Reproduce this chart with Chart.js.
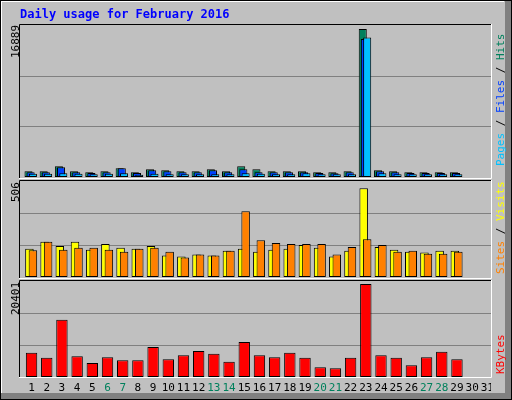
<!DOCTYPE html>
<html><head><meta charset="utf-8">
<script src="https://cdn.jsdelivr.net/npm/chart.js@4"></script>
<style>
body{margin:0;width:512px;height:400px;overflow:hidden;background:#c0c0c0;font-family:"DejaVu Sans Mono",monospace}
#frame{position:absolute;left:0;top:0;width:512px;height:400px}
canvas.c{position:absolute}
.t{position:absolute;font-family:"DejaVu Sans Mono",monospace;white-space:nowrap}
.rot{transform-origin:0 0;transform:rotate(-90deg)}
</style></head><body>
<canvas id="frame" width="512" height="400"></canvas>
<canvas id="c1" class="c" style="left:20px;top:25px;width:471px;height:152px"></canvas>
<canvas id="c2" class="c" style="left:20px;top:181px;width:471px;height:96px"></canvas>
<canvas id="c3" class="c" style="left:20px;top:281px;width:471px;height:118px"></canvas>
<div class="t" style="left:20px;top:7px;color:#0000ff;font-weight:bold;font-size:12px">Daily usage for February 2016</div>
<div class="t rot" style="left:9px;top:58px;font-size:11px;color:#000">16889</div>
<div class="t rot" style="left:9px;top:202px;font-size:11px;color:#000">506</div>
<div class="t rot" style="left:9px;top:315px;font-size:11px;color:#000">20401</div>
<div class="t rot" style="left:494px;top:166px;font-size:11px"><span style="color:#00c0ff">Pages</span><span style="color:#000"> / </span><span style="color:#0040ff">Files</span><span style="color:#000"> / </span><span style="color:#00805c">Hits</span></div>
<div class="t rot" style="left:494px;top:274px;font-size:11px"><span style="color:#ff8000">Sites</span><span style="color:#000"> / </span><span style="color:#ffff00">Visits</span></div>
<div class="t rot" style="left:494px;top:374px;font-size:11px;color:#ff0000">KBytes</div>
<script>
const days=[1,2,3,4,5,6,7,8,9,10,11,12,13,14,15,16,17,18,19,20,21,22,23,24,25,26,27,28,29,30,31];
const weekend=[6,7,13,14,20,21,27,28];
const hits=[650,650,1226,650,536,650,996,536,881,766,650,650,881,650,1226,881,650,650,650,536,536,650,16889,766,650,536,536,536,536,0,0];
const files=[536,536,1111,536,460,536,996,460,766,650,536,536,766,536,881,536,536,536,536,460,421,536,15740,650,536,460,460,460,460,0,0];
const pages=[383,383,421,383,306,383,421,268,383,306,306,306,306,306,421,383,306,306,421,306,306,306,15930,421,306,306,306,306,306,0,0];
const visits=[155,193,170,193,149,181,160,155,170,118,112,123,118,144,155,139,149,155,176,160,112,144,486,165,149,139,134,144,144,0,0];
const sites=[146,193,149,160,160,149,139,155,160,139,107,123,118,144,360,202,186,181,181,181,123,165,207,176,139,144,128,128,139,0,0];
const kbytes=[5320,4210,12560,4580,3100,4360,3700,3700,6580,3920,4800,5690,5100,3330,7690,4800,4360,5320,4210,2140,1920,4210,20401,4800,4210,2590,4360,5540,3920,0,0];
const yMax=[17350,526,21070];

const f=document.getElementById('frame').getContext('2d');
f.fillStyle='#c0c0c0';f.fillRect(0,0,512,400);
f.fillStyle='#808080';f.fillRect(505,0,7,400);f.fillRect(0,393,512,7);
f.fillStyle='#ffffff';f.fillRect(1,1,503,1);f.fillRect(1,1,1,392);
f.strokeStyle='#000';f.lineWidth=1;f.strokeRect(0.5,0.5,511,399);
function box(y0,y1){f.strokeStyle='#000';f.beginPath();f.moveTo(19.5,y1);f.lineTo(19.5,y0+0.5);f.lineTo(491.5,y0+0.5);f.stroke();
 f.strokeStyle='#fff';f.beginPath();f.moveTo(491.5,y0);f.lineTo(491.5,y1+0.5);f.lineTo(19,y1+0.5);f.stroke();}
box(24,178);box(180,278);box(280,377);

const pts=a=>a.map((v,i)=>({x:days[i],y:v}));
const gridPlugin={id:'g',beforeDatasetsDraw(ch){const y=ch.scales.y,ctx=ch.ctx,a=ch.chartArea;ctx.save();ctx.strokeStyle='#808080';ctx.lineWidth=1;
 [1,2].forEach(k=>{const p=Math.round(y.getPixelForValue(y.max*k/3))+0.5;ctx.beginPath();ctx.moveTo(a.left,p);ctx.lineTo(a.right,p);ctx.stroke();});ctx.restore();}};
const labelPlugin={id:'l',afterDraw(ch){const x=ch.scales.x0,ctx=ch.ctx;ctx.save();ctx.font='11px "DejaVu Sans Mono"';ctx.textAlign='center';ctx.textBaseline='middle';
 days.forEach(d=>{ctx.fillStyle=weekend.includes(d)?'#00805c':'#000';ctx.fillText(String(d),x.getPixelForValue(d),107);});ctx.restore();}};
function xs(mins){const s={};mins.forEach((m,i)=>s['x'+i]={type:'linear',min:m,max:m+31,offset:false,display:false});return s;}
function ds(data,axis,color,bp,order){return {data:pts(data),xAxisID:axis,backgroundColor:color,borderColor:'#000',borderWidth:1,borderSkipped:false,barPercentage:bp,categoryPercentage:1,grouped:false,order};}
function make(id,datasets,mins,ymax,extra,padB){
 const scales=xs(mins);scales.y={min:0,max:ymax,display:false};
 new Chart(document.getElementById(id),{type:'bar',data:{datasets},options:{responsive:false,animation:false,devicePixelRatio:1,
  layout:{padding:{left:0,right:0,top:0,bottom:padB||0}},plugins:{legend:{display:false},tooltip:{enabled:false}},scales},plugins:[gridPlugin].concat(extra||[])});
}
[['c1',471,152],['c2',471,96],['c3',471,118]].forEach(([id,w,h])=>{const c=document.getElementById(id);c.width=w;c.height=h;});
make('c1',[ds(hits,'x0','#00805c',0.53,2),ds(files,'x1','#0040ff',0.53,1),ds(pages,'x2','#00c0ff',0.53,0)],[0.44,0.3,0.15],yMax[0]);
make('c2',[ds(visits,'x0','#ffff00',0.56,1),ds(sites,'x1','#ff8000',0.56,0)],[0.38,0.15],yMax[1]);
make('c3',[ds(kbytes,'x0','#ff0000',0.75,0)],[0.24],yMax[2],[labelPlugin],22);
</script></body></html>
